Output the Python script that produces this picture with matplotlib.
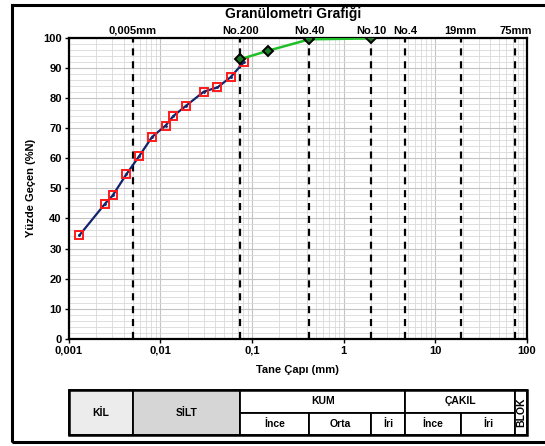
import matplotlib.pyplot as plt
from matplotlib.patches import Rectangle
from matplotlib.ticker import FixedLocator, NullFormatter
import numpy as np

plt.rcParams['font.family'] = ['Liberation Sans', 'DejaVu Sans']
plt.rcParams['font.weight'] = 'bold'

# Hidrometre (ince dane) sonuçları
hidro_cap = [0.00131, 0.00249, 0.00303, 0.00426, 0.00587, 0.00813, 0.0114,
             0.0139, 0.0191, 0.0299, 0.0421, 0.0585, 0.0818]
hidro_gecen = [34.4, 44.9, 47.7, 54.7, 60.7, 67.1, 70.9, 74.1, 77.5, 82.2,
               83.6, 87.0, 92.0]

# Elek analizi sonuçları
elek_cap = [0.075, 0.15, 0.425, 2.0]
elek_gecen = [93.0, 95.8, 99.6, 99.9]

# Elek / sınır çizgileri
sinir_cap = [0.005, 0.075, 0.425, 2.0, 4.75, 19, 75]
sinir_etiket = ['0,005mm', 'No.200', 'No.40', 'No.10', 'No.4', '19mm', '75mm']

x_tik = [0.001, 0.01, 0.1, 1, 10, 100]
x_tik_etiket = ['0,001', '0,01', '0,1', '1', '10', '100']

W, H = 545, 446
fig = plt.figure(figsize=(W / 100, H / 100), dpi=100)


def px(x0, y0, x1, y1):
    # piksel kutusunu figür oranına çevir
    return [x0 / W, 1 - y1 / H, (x1 - x0) / W, (y1 - y0) / H]


ax = fig.add_axes(px(68.7, 38.1, 526.7, 338.7))
ax.set_xscale('log')
ax.set_xlim(0.001, 100)
ax.set_ylim(0, 100)

# ızgara
minor_x = [m * 10.0 ** e for e in range(-3, 2) for m in range(2, 10)]
ax.xaxis.set_minor_locator(FixedLocator(minor_x))
ax.xaxis.set_minor_formatter(NullFormatter())
ax.set_yticks(np.arange(0, 101, 10))
ax.set_yticks(np.arange(0, 101, 2), minor=True)
ax.grid(which='minor', color='#d9d9d9', linewidth=0.6)
ax.grid(which='major', color='#c4c4c4', linewidth=0.8)
ax.tick_params(which='minor', length=0)
ax.tick_params(which='major', length=3, width=1, labelsize=8, pad=2)
ax.set_xticks(x_tik)
ax.set_xticklabels(x_tik_etiket)
for s in ax.spines.values():
    s.set_linewidth(1.6)

for c, lab in zip(sinir_cap, sinir_etiket):
    ax.axvline(c, color='black', linewidth=1.6, dashes=(3.2, 2.6), zorder=2)
    ax.text(c, 100.8, lab, ha='center', va='bottom', fontsize=8,
            fontweight='bold', transform=ax.transData)

ax.plot(hidro_cap, hidro_gecen, color='#13246b', linewidth=1.6, zorder=3,
        marker='s', markersize=6, markerfacecolor='none',
        markeredgecolor='#ff1a1a', markeredgewidth=1.4)
ax.plot(hidro_cap, hidro_gecen, linestyle='none', marker='.', markersize=2,
        color='#13246b', zorder=4)
ax.plot(elek_cap, elek_gecen, color='#1fbf2a', linewidth=1.8, zorder=3,
        marker='D', markersize=5, markerfacecolor='#1a7a20',
        markeredgecolor='black', markeredgewidth=1.4)

fig.text(293 / W, 1 - 14 / H, 'Granülometri Grafiği', ha='center',
         va='center', fontsize=10, fontweight='bold')
ax.set_xlabel('Tane Çapı (mm)', fontsize=8, fontweight='bold', labelpad=7)
ax.set_ylabel('Yüzde Geçen (%N)', fontsize=8, fontweight='bold', labelpad=5)

# Zemin sınıflandırma tablosu
tb = fig.add_axes(px(68.7, 389.8, 526.7, 435.3))
tb.set_xscale('log')
tb.set_xlim(0.001, 100)
tb.set_ylim(0, 2)
tb.axis('off')

hucreler = [
    (0.001, 0.005, 0, 2, 'KİL', '#ececec'),
    (0.005, 0.075, 0, 2, 'SİLT', '#d6d6d6'),
    (0.075, 4.75, 1, 2, 'KUM', 'white'),
    (0.075, 0.425, 0, 1, 'İnce', 'white'),
    (0.425, 2.0, 0, 1, 'Orta', 'white'),
    (2.0, 4.75, 0, 1, 'İri', 'white'),
    (4.75, 75, 1, 2, 'ÇAKIL', 'white'),
    (4.75, 19, 0, 1, 'İnce', 'white'),
    (19, 75, 0, 1, 'İri', 'white'),
    (75, 100, 0, 2, 'BLOK', 'white'),
]
for x0, x1, y0, y1, yazi, renk in hucreler:
    tb.add_patch(Rectangle((x0, y0), x1 - x0, y1 - y0, facecolor=renk,
                           edgecolor='black', linewidth=1.3, clip_on=False))
    xm = np.sqrt(x0 * x1)
    if yazi == 'BLOK':
        tb.text(xm, 1, yazi, rotation=90, ha='center', va='center',
                fontsize=7.5, fontweight='bold')
    else:
        tb.text(xm, (y0 + y1) / 2, yazi, ha='center', va='center',
                fontsize=7.5, fontweight='bold')
tb.add_patch(Rectangle((0.001, 0), 100 - 0.001, 2, facecolor='none',
                       edgecolor='black', linewidth=1.8, clip_on=False))

# dış çerçeve
fig.patches.append(Rectangle((12 / W, 1 - 442 / H), (560 - 12) / W,
                             (442 - 5) / H, transform=fig.transFigure,
                             facecolor='none', edgecolor='black',
                             linewidth=2.2))

fig.savefig('out.png', dpi=100)
